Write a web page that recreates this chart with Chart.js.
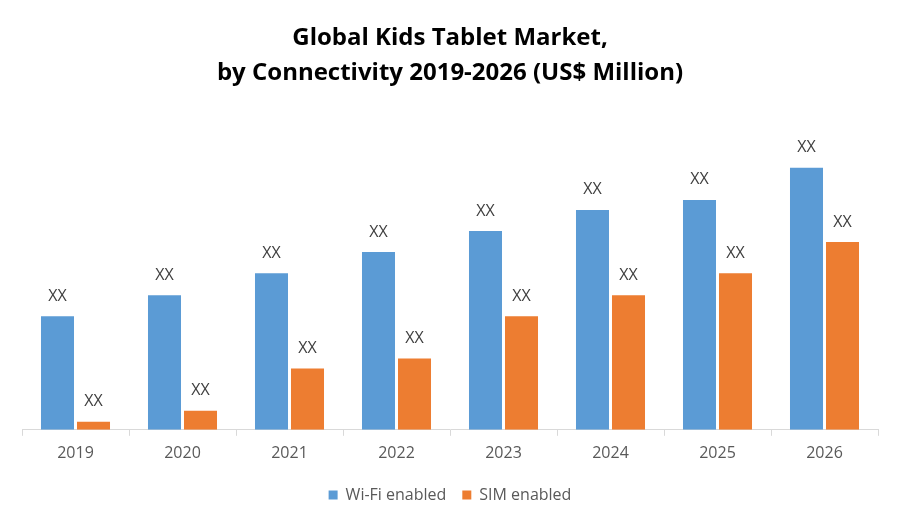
<!DOCTYPE html>
<html>
<head>
<meta charset="utf-8">
<script src="https://cdn.jsdelivr.net/npm/chart.js@4.4.1/dist/chart.umd.min.js"></script>
<style>
  html, body { margin: 0; padding: 0; background: #fff; }
</style>
</head>
<body>
<canvas id="chart" width="900" height="525"></canvas>
<script>
let years = ['2019', '2020', '2021', '2022', '2023', '2024', '2025', '2026'];
let wifiValues = [113, 134, 156, 177, 198, 219, 229, 261];
let simValues = [8, 19, 61, 71, 113, 134, 156, 187];
let pointLabel = 'XX';

let barLabels = {
    id: 'barLabels',
    afterDatasetsDraw(chart) {
        let ctx = chart.ctx;
        ctx.save();
        ctx.font = '16px "Open Sans", sans-serif';
        ctx.fillStyle = '#404040';
        ctx.textAlign = 'center';
        ctx.textBaseline = 'bottom';
        chart.data.datasets.forEach((ds, i) => {
            chart.getDatasetMeta(i).data.forEach(bar => {
                ctx.fillText(pointLabel, bar.x, bar.y - 12);
            });
        });
        ctx.restore();
    }
};

new Chart(document.getElementById('chart').getContext('2d'), {
    type: 'bar',
    data: {
        labels: years,
        datasets: [{
            label: 'Wi-Fi enabled',
            backgroundColor: '#5b9bd5',
            data: wifiValues
        }, {
            label: 'SIM enabled',
            backgroundColor: '#ed7d31',
            data: simValues
        }]
    },
    options: {
        responsive: false,
        animation: { duration: 0 },
        layout: { padding: { left: 22, right: 22, top: 10, bottom: 12 } },
        datasets: {
            bar: { categoryPercentage: 0.673, barPercentage: 0.917 }
        },
        scales: {
            y: { display: false, min: 0, max: 300 },
            x: {
                grid: { offset: true, drawOnChartArea: false, tickLength: 6, color: '#d9d9d9' },
                border: { color: '#d9d9d9' },
                ticks: { color: '#595959', font: { size: 16, family: '"Open Sans", sans-serif' }, padding: 8 }
            }
        },
        plugins: {
            title: {
                display: true,
                text: ['Global Kids Tablet Market,', 'by Connectivity 2019-2026 (US$ Million)'],
                color: '#000',
                font: { size: 24, weight: 'bold', family: '"Open Sans", sans-serif', lineHeight: 1.45 },
                padding: { top: 11, bottom: 38 }
            },
            legend: {
                position: 'bottom',
                labels: {
                    color: '#595959',
                    font: { size: 16, family: '"Open Sans", sans-serif' },
                    boxWidth: 9, boxHeight: 9, padding: 16
                }
            },
            tooltip: { enabled: false }
        }
    },
    plugins: [barLabels]
});
</script>
</body>
</html>
